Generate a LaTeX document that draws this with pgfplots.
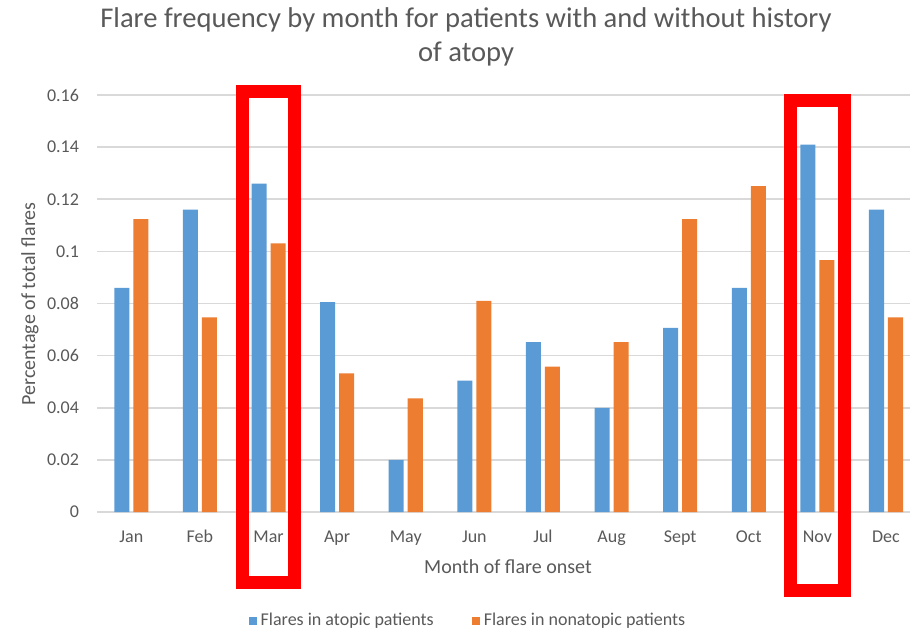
\documentclass[border=0pt]{standalone}
\usepackage{pgfplots}
\pgfplotsset{compat=1.18}
\usepackage{fontspec}
\setmainfont{Carlito}
\definecolor{txt}{HTML}{595959}
\definecolor{gridc}{HTML}{D9D9D9}
\definecolor{cblue}{HTML}{5B9BD5}
\definecolor{corange}{HTML}{ED7D31}
\begin{document}
\begin{tikzpicture}
\begin{axis}[
  name=ax,
  scale only axis,
  width=406.5pt, height=208.5pt,
  xmin=-0.5, xmax=11.35,
  ymin=0, ymax=0.16,
  ytick={0,0.02,0.04,0.06,0.08,0.1,0.12,0.14,0.16},
  yticklabels={0,0.02,0.04,0.06,0.08,0.1,0.12,0.14,0.16},
  xtick={0,1,2,3,4,5,6,7,8,9,10,11},
  xticklabels={Jan,Feb,Mar,Apr,May,Jun,Jul,Aug,Sept,Oct,Nov,Dec},
  axis line style={draw=none},
  major tick length=0pt,
  ymajorgrids,
  grid style={gridc, line width=0.8pt},
  tick label style={font=\fontsize{9}{11}\selectfont, text=txt},
  yticklabel style={xshift=-5.5pt},
  xticklabel style={anchor=base, yshift=-15pt},
  ybar,
  bar width=0.219,
  clip=false,
  legend columns=2,
  legend style={at={(0.4576,-0.2606)}, anchor=center, draw=none, fill=none,
    font=\fontsize{9}{11}\selectfont, text=txt,
    /tikz/every even column/.append style={column sep=17pt}},
  legend image code/.code={\fill[#1] (0pt,-2pt) rectangle (4pt,2pt);},
]
\addplot[draw=none, fill=cblue, bar shift=-0.1385] coordinates {
(0,0.086) (1,0.116) (2,0.126) (3,0.0805) (4,0.020) (5,0.0504)
(6,0.0652) (7,0.040) (8,0.0706) (9,0.086) (10,0.141) (11,0.116)};
\addlegendentry{Flares in atopic patients}
\addplot[draw=none, fill=corange, bar shift=0.1385] coordinates {
(0,0.1124) (1,0.0747) (2,0.1031) (3,0.0532) (4,0.0436) (5,0.081)
(6,0.0558) (7,0.0652) (8,0.1124) (9,0.125) (10,0.0966) (11,0.0747)};
\addlegendentry{Flares in nonatopic patients}
\draw[red, line width=6.5pt] (axis cs:1.628,-0.0272) rectangle (axis cs:2.379,0.1614);
\draw[red, line width=6.5pt] (axis cs:9.61,-0.0303) rectangle (axis cs:10.40,0.1579);
\node[anchor=center, rotate=90, font=\fontsize{10}{12}\selectfont, text=txt]
  at (rel axis cs:-0.0824,0.4988) {Percentage of total flares};
\node[anchor=center, font=\fontsize{10}{12}\selectfont, text=txt]
  at (rel axis cs:0.5055,-0.1319) {Month of flare onset};
\node[anchor=base, font=\fontsize{14.3}{17}\selectfont, text=txt]
  at (rel axis cs:0.4539,0) [yshift=242pt] {Flare frequency by month for patients with and without history};
\node[anchor=base, font=\fontsize{14.3}{17}\selectfont, text=txt]
  at (rel axis cs:0.4539,0) [yshift=225pt] {of atopy};
\end{axis}
\pgfresetboundingbox
\path[use as bounding box] (ax.south west) ++(-48.5pt,-59.5pt) rectangle ++(455pt,315.5pt);
\end{tikzpicture}
\end{document}
